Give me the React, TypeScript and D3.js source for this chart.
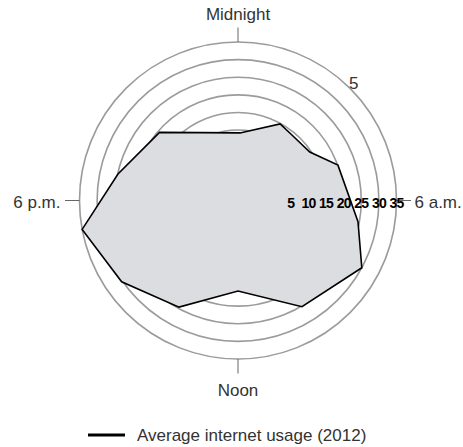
import React, { useRef, useEffect } from "react"
import * as d3 from "d3"

// hour of day (fractional where the outline bends) and usage value
const hours = [0.11, 1.92, 2.63, 3.73, 4.7, 6.67, 7.9, 9.93, 12, 13.93, 15.67, 17.3, 18.83, 20.73]
const usage = [9.2, 14.8, 14.1, 14.6, 20.1, 24.6, 30.0, 25.2, 15.7, 24.6, 30.3, 35.0, 24.9, 19.5]

const ringValues = [5, 10, 15, 20, 25, 30, 35]
const hourLabels = [
  { hour: 0, text: "Midnight" },
  { hour: 6, text: "6 a.m." },
  { hour: 12, text: "Noon" },
  { hour: 18, text: "6 p.m." },
]
const strayLabel = { hour: 3, text: "5" }
const legendLabel = "Average internet usage (2012)"

const W = 463
const H = 447
const font = "'Liberation Sans', Arial, sans-serif"

function RadialChart() {
  const ref = useRef(null)
  const cx = 238,
    cy = 200.5,
    inner = 35.2,
    outer = 158.5

  useEffect(() => {
    const svg = d3.select(ref.current)
    svg.selectAll("*").remove()

    const r = d3.scaleLinear().domain([0, 35]).range([inner, outer])
    const a = d3.scaleLinear().domain([0, 24]).range([0, 2 * Math.PI])

    const g = svg.append("g").attr("transform", `translate(${cx}, ${cy})`)

    // rings
    g.selectAll("circle.ring")
      .data(ringValues)
      .join("circle")
      .attr("class", "ring")
      .attr("r", d => r(d))
      .attr("fill", "none")
      .attr("stroke", "#9b9b9b")
      .attr("stroke-width", 1.6)

    // usage outline
    const points = hours.map((h, i) => [a(h), r(usage[i])])
    const line = d3.lineRadial().curve(d3.curveLinearClosed)
    g.append("path")
      .attr("d", line(points))
      .attr("fill", "#dcdde0")
      .attr("stroke", "#000")
      .attr("stroke-width", 1.6)
      .attr("stroke-linejoin", "miter")

    // hour ticks and labels
    const pos = (h, rad) => [Math.sin(a(h)) * rad, -Math.cos(a(h)) * rad]
    hourLabels.forEach(d => {
      const [x1, y1] = pos(d.hour, outer)
      const [x2, y2] = pos(d.hour, outer + 14.5)
      g.append("line")
        .attr("x1", x1)
        .attr("y1", y1)
        .attr("x2", x2)
        .attr("y2", y2)
        .attr("stroke", "#666")
        .attr("stroke-width", 1)
    })

    const label = (x, y, text, anchor) =>
      g.append("text")
        .attr("x", x)
        .attr("y", y)
        .attr("text-anchor", anchor)
        .style("font-family", font)
        .style("font-size", "17px")
        .attr("fill", "#333")
        .text(text)

    label(0, -outer - 22, hourLabels[0].text, "middle")
    label(outer + 18, 7.5, hourLabels[1].text, "start")
    label(0, outer + 37, hourLabels[2].text, "middle")
    label(-outer - 19, 7.5, hourLabels[3].text, "end")

    const [sx, sy] = pos(strayLabel.hour, outer + 5)
    label(sx, sy + 4, strayLabel.text, "middle")

    // value labels along the 6 a.m. axis
    g.selectAll("text.val")
      .data(ringValues)
      .join("text")
      .attr("class", "val")
      .attr("x", d => r(d))
      .attr("y", 7.5)
      .attr("text-anchor", "middle")
      .style("font-family", font)
      .style("font-size", "14px")
      .style("font-weight", "bold")
      .style("letter-spacing", "-0.8px")
      .attr("fill", "#000")
      .text(d => d)

    // legend
    const leg = svg.append("g").attr("transform", `translate(88, 435)`)
    leg.append("line")
      .attr("x1", 0)
      .attr("x2", 37)
      .attr("y1", 0)
      .attr("y2", 0)
      .attr("stroke", "#000")
      .attr("stroke-width", 3)
    leg.append("text")
      .attr("x", 49)
      .attr("y", 6)
      .style("font-family", font)
      .style("font-size", "17px")
      .attr("fill", "#333")
      .text(legendLabel)
  }, [])

  return <svg ref={ref} width={W} height={H} style={{ display: "block" }}></svg>
}

export default function App() {
  return (
    <div>
      <style>{`body{margin:0;background:#fff}`}</style>
      <RadialChart />
    </div>
  )
}
